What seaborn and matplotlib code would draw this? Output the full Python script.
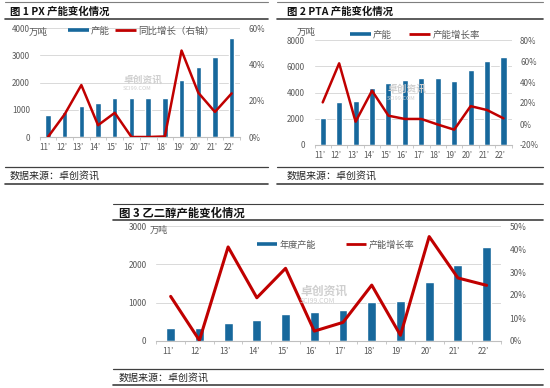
import numpy as np
import pandas as pd
import matplotlib
matplotlib.use("Agg")
import matplotlib.pyplot as plt
import seaborn as sns
from matplotlib.lines import Line2D
from matplotlib.ticker import FixedLocator, FuncFormatter

years = ["11’", "12’", "13’", "14’", "15’", "16’", "17’", "18’", "19’", "20’", "21’", "22’"]
px_capacity = [800, 900, 1130, 1230, 1415, 1415, 1415, 1415, 2090, 2585, 2930, 3630]
px_growth = [0, 12.5, 28.6, 6.5, 13.3, 0, 0, 0.3, 47.6, 24.4, 13.8, 24.0]
pta_capacity = [2030, 3250, 3330, 4320, 4700, 4920, 5100, 5100, 4900, 5740, 6370, 6730]
pta_growth = [20.6, 57.8, 2.2, 31.7, 7.9, 4.8, 4.8, -0.5, -5.4, 17.0, 13.3, 5.4]
meg_capacity = [348, 348, 460, 548, 713, 757, 817, 1026, 1043, 1548, 1983, 2461]
meg_growth = [19.4, 0.3, 40.9, 18.8, 31.6, 4.3, 8.1, 24.3, 2.5, 45.4, 27.4, 24.2]

titles = ["图 1 PX 产能变化情况", "图 2 PTA 产能变化情况", "图 3 乙二醇产能变化情况"]
unit_label = "万吨"
source_text = "数据来源：卓创资讯"
legend_labels = [("产能", "同比增长（右轴）"), ("产能", "产能增长率"), ("年度产能", "产能增长率")]

sns.set_theme(style="white")
plt.rcParams["font.family"] = ["Noto Sans CJK SC", "DejaVu Sans"]

BLUE = "#17689C"
RED = "#C00000"
GRID = "#D9D9D9"
TICK = "#595959"

W, H = 550, 388
fig = plt.figure(figsize=(5.5, 3.88), dpi=100)
fig.patch.set_facecolor("white")


def fx(x):
    return x / W


def fy(y):
    return 1 - y / H


def hline(x0, x1, y, lw, color):
    fig.add_artist(Line2D([fx(x0), fx(x1)], [fy(y), fy(y)], transform=fig.transFigure,
                          lw=lw, color=color))


def panel(left, right, top, bottom, cap, gr, lticks, rticks, bar_w, line_w, fs, lfs, labels,
          leg_x, leg_y, leg_gap, unit_xy):
    ax = fig.add_axes([fx(left), fy(bottom), fx(right) - fx(left), fy(top) - fy(bottom)])
    df = pd.DataFrame({"year": years, "cap": cap, "gr": gr})
    sns.barplot(data=df, x="year", y="cap", color=BLUE, width=bar_w, saturation=1,
                ax=ax, zorder=2)
    ax.set_xlim(-0.5, len(years) - 0.5)
    ax.set_ylim(lticks[0], lticks[-1])
    ax.yaxis.set_major_locator(FixedLocator(lticks))
    ax.yaxis.set_major_formatter(FuncFormatter(lambda v, p: f"{v:.0f}"))
    ax.yaxis.grid(True, color=GRID, lw=0.7)
    ax.set_axisbelow(True)
    ax.set_xlabel("")
    ax.set_ylabel("")
    for s in ["top", "right", "left"]:
        ax.spines[s].set_visible(False)
    ax.spines["bottom"].set_color("#BFBFBF")
    ax.spines["bottom"].set_linewidth(0.8)
    ax.tick_params(axis="y", length=0, labelsize=fs, labelcolor=TICK, pad=7)
    ax.tick_params(axis="x", length=0, labelsize=fs, labelcolor=TICK, pad=4)
    ax.set_xticks(np.arange(-0.5, len(years), 1.0), minor=True)
    ax.tick_params(axis="x", which="minor", length=2.5, color="#BFBFBF", width=0.6, bottom=True)

    ax2 = ax.twinx()
    sns.lineplot(x=np.arange(len(years)), y=df["gr"].values, color=RED, lw=line_w, ax=ax2,
                 zorder=3)
    ax2.set_ylim(rticks[0], rticks[-1])
    ax2.yaxis.set_major_locator(FixedLocator(rticks))
    ax2.yaxis.set_major_formatter(FuncFormatter(lambda v, p: f"{v:.0f}%"))
    ax2.tick_params(axis="y", length=0, labelsize=fs, labelcolor=TICK, pad=6)
    ax2.set_ylabel("")
    for s in ["top", "right", "left", "bottom"]:
        ax2.spines[s].set_visible(False)
    ax2.grid(False)

    handles = [Line2D([], [], color=BLUE, lw=2.6, solid_capstyle="butt"),
               Line2D([], [], color=RED, lw=2.0, solid_capstyle="butt")]
    leg = fig.legend(handles, labels, loc="center left", ncol=2,
                     bbox_to_anchor=(fx(leg_x), fy(leg_y)), bbox_transform=fig.transFigure,
                     frameon=False, fontsize=lfs, handlelength=2.2, handletextpad=0.25,
                     columnspacing=leg_gap, borderpad=0, borderaxespad=0)
    for t in leg.get_texts():
        t.set_color(TICK)
    fig.text(fx(unit_xy[0]), fy(unit_xy[1]), unit_label, fontsize=lfs, color=TICK,
             ha="left", va="center")
    return ax


# ---------- Panel 1 : PX ----------
hline(5, 268, 2, 0.8, "#7F7F7F")
fig.text(fx(10), fy(12), titles[0], fontsize=7.5, fontweight="bold", color="#111111",
         va="center", ha="left")
hline(5, 268, 19, 1.2, "#404040")
panel(39.6, 240, 28, 137, px_capacity, px_growth, [0, 1000, 2000, 3000, 4000],
      [0, 20, 40, 60], 0.32, 1.8, 5.8, 6.8, legend_labels[0], 68, 31, 0.5, (29, 32))
hline(5, 268, 167, 0.9, "#404040")
fig.text(fx(10), fy(176), source_text, fontsize=7.2, color="#262626", va="center", ha="left")
hline(5, 268, 184, 1.2, "#404040")
fig.text(fx(123), fy(80), "卓创资讯", fontsize=7, color="#CFCFCF", va="center", ha="left",
         fontweight="bold", zorder=5)
fig.text(fx(123), fy(89), "SCI99.COM", fontsize=4, color="#CFCFCF", va="center", ha="left",
         zorder=5)

# ---------- Panel 2 : PTA ----------
hline(277, 543, 2, 0.8, "#7F7F7F")
fig.text(fx(287), fy(12), titles[1], fontsize=7.5, fontweight="bold", color="#111111",
         va="center", ha="left")
hline(277, 543, 19, 1.2, "#404040")
panel(314.5, 511.7, 40, 145, pta_capacity, pta_growth, [0, 2000, 4000, 6000, 8000],
      [-20, 0, 20, 40, 60, 80], 0.37, 1.8, 5.8, 6.8, legend_labels[1], 350, 35, 1.8,
      (297, 32))
hline(277, 543, 167, 0.9, "#404040")
fig.text(fx(287), fy(176), source_text, fontsize=7.2, color="#262626", va="center", ha="left")
hline(277, 543, 184, 1.2, "#404040")
fig.text(fx(387), fy(89), "卓创资讯", fontsize=7, color="#CFCFCF", va="center", ha="left",
         fontweight="bold", zorder=5)
fig.text(fx(387), fy(98), "SCI99.COM", fontsize=4, color="#CFCFCF", va="center", ha="left",
         zorder=5)

# ---------- Panel 3 : MEG ----------
hline(113, 543, 204, 0.8, "#404040")
fig.text(fx(119), fy(213), titles[2], fontsize=8.2, fontweight="bold", color="#111111",
         va="center", ha="left")
hline(113, 543, 220, 1.2, "#404040")
panel(156.3, 501, 226, 341, meg_capacity, meg_growth, [0, 1000, 2000, 3000],
      [0, 10, 20, 30, 40, 50], 0.31, 2.2, 6.0, 6.6, legend_labels[2], 257, 245, 3.3,
      (150, 230))
hline(113, 543, 369, 0.9, "#404040")
fig.text(fx(119), fy(378), source_text, fontsize=7.2, color="#262626", va="center", ha="left")
hline(113, 543, 385, 1.2, "#404040")
fig.text(fx(300), fy(291), "卓创资讯", fontsize=8.5, color="#CFCFCF", va="center", ha="left",
         fontweight="bold", zorder=5)
fig.text(fx(300), fy(301), "SCI99.COM", fontsize=5, color="#CFCFCF", va="center", ha="left",
         zorder=5)

fig.savefig("out.png", dpi=100, facecolor="white")
